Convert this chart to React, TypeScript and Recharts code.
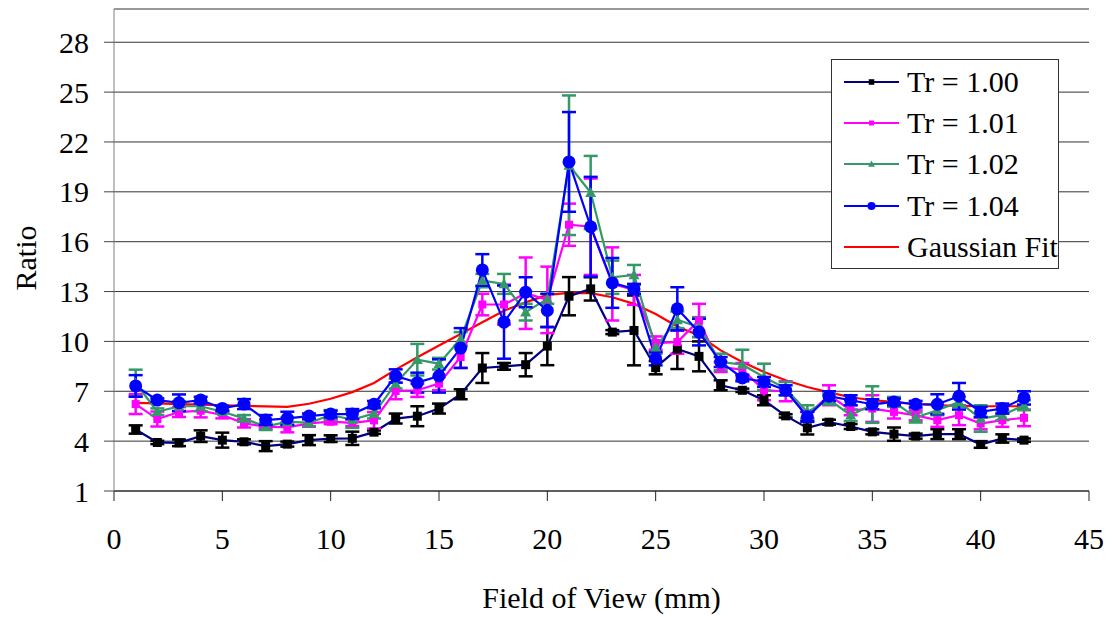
import React from "react";
import {
  CartesianGrid,
  ErrorBar,
  Label,
  Legend,
  Line,
  LineChart,
  XAxis,
  YAxis,
} from "recharts";

// field of view positions (mm)
const fieldOfView = [
  1, 2, 3, 4, 5, 6, 7, 8, 9, 10, 11, 12, 13, 14, 15, 16, 17, 18, 19, 20, 21,
  22, 23, 24, 25, 26, 27, 28, 29, 30, 31, 32, 33, 34, 35, 36, 37, 38, 39, 40,
  41, 42,
];

const tr100 = [
  4.7, 3.92, 3.9, 4.3, 4.06, 3.96, 3.7, 3.82, 4.06, 4.15, 4.17, 4.54, 5.36,
  5.5, 5.96, 6.82, 8.4, 8.5, 8.6, 9.72, 12.72, 13.16, 10.56, 10.66, 8.42, 9.54,
  9.1, 7.36, 7.06, 6.46, 5.52, 4.8, 5.14, 4.88, 4.56, 4.42, 4.3, 4.42, 4.42,
  3.8, 4.16, 4.06,
];
const tr100Err = [
  0.25, 0.1, 0.2, 0.35, 0.45, 0.15, 0.3, 0.15, 0.3, 0.2, 0.4, 0.1, 0.3, 0.6,
  0.3, 0.3, 0.9, 0.2, 0.7, 1.15, 1.15, 0.7, 0.12, 2.1, 0.4, 1.2, 0.9, 0.3, 0.1,
  0.3, 0.1, 0.4, 0.15, 0.15, 0.15, 0.4, 0.15, 0.3, 0.3, 0.2, 0.25, 0.1,
];

const tr101 = [
  6.23, 5.33, 5.75, 5.83, 5.57, 5.07, 4.87, 4.83, 5.07, 5.17, 5.1, 5.25, 7.02,
  7.06, 7.46, 9.06, 12.22, 12.22, 12.9, 12.5, 17.02, 16.9, 13.46, 13.1, 9.9,
  9.96, 11.26, 8.46, 8.3, 7.06, 7.0, 5.56, 6.76, 5.86, 5.96, 5.76, 5.55, 5.26,
  5.56, 5.06, 5.26, 5.4,
];
const tr101Err = [
  0.6, 0.45, 0.3, 0.4, 0.2, 0.25, 0.1, 0.3, 0.2, 0.15, 0.2, 0.5, 0.5, 0.4, 0.4,
  0.65, 0.65, 1.2, 2.15, 2.0, 1.27, 2.9, 2.2, 0.9, 0.4, 0.7, 1.0, 0.3, 0.4, 0.6,
  0.6, 0.2, 0.6, 0.3, 0.8, 0.4, 0.3, 0.4, 0.6, 0.35, 0.4, 0.5,
];

const tr102 = [
  7.5, 5.77, 6.1, 6.1, 5.77, 5.37, 4.87, 5.17, 5.1, 5.57, 5.3, 5.66, 7.46, 8.9,
  8.66, 10.16, 13.66, 13.46, 11.76, 12.56, 20.6, 18.96, 13.86, 14.0, 9.66, 11.3,
  10.86, 8.76, 8.6, 7.86, 7.16, 5.76, 6.5, 5.56, 6.2, 6.36, 5.42, 5.86, 6.36,
  5.36, 5.56, 6.16,
];
const tr102Err = [
  0.8, 0.2, 0.3, 0.3, 0.1, 0.2, 0.2, 0.25, 0.2, 0.3, 0.5, 0.3, 0.3, 0.95, 0.35,
  0.4, 0.4, 0.6, 0.5, 0.3, 4.2, 2.2, 1.0, 0.6, 0.4, 0.5, 0.6, 0.5, 0.9, 0.8,
  0.4, 0.4, 0.3, 0.35, 1.1, 0.3, 0.3, 0.3, 0.3, 0.8, 0.3, 0.3,
];

const tr104 = [
  7.32, 6.47, 6.31, 6.47, 5.97, 6.23, 5.27, 5.37, 5.51, 5.63, 5.63, 6.22, 7.92,
  7.52, 7.92, 9.6, 14.3, 11.16, 12.96, 11.86, 20.8, 16.9, 13.52, 13.16, 8.96,
  11.96, 10.56, 8.76, 7.8, 7.56, 7.06, 5.46, 6.7, 6.46, 6.22, 6.36, 6.22, 6.22,
  6.7, 5.76, 5.96, 6.6,
];
const tr104Err = [
  0.65, 0.1, 0.5, 0.2, 0.15, 0.3, 0.3, 0.4, 0.15, 0.2, 0.3, 0.2, 0.4, 0.6, 1.0,
  1.2, 0.95, 2.2, 0.9, 1.0, 3.0, 3.0, 1.5, 0.3, 0.4, 1.3, 0.8, 0.3, 0.2, 0.3,
  0.3, 0.3, 0.3, 0.3, 0.3, 0.2, 0.2, 0.6, 0.8, 0.3, 0.3, 0.4,
];

const gaussianFit = [
  6.3, 6.27, 6.23, 6.2, 6.16, 6.12, 6.09, 6.06, 6.25, 6.55, 6.95, 7.5, 8.3,
  9.05, 9.75, 10.45, 11.15, 11.85, 12.35, 12.8, 12.92, 12.9, 12.66, 12.26,
  11.65, 10.9, 10.36, 9.46, 8.76, 8.16, 7.66, 7.26, 6.93, 6.64, 6.46, 6.36,
  6.22, 6.16, 6.12, 6.1, 6.1, 6.1,
];

const xTicks = [0, 5, 10, 15, 20, 25, 30, 35, 40, 45];
const yTicks = [1, 4, 7, 10, 13, 16, 19, 22, 25, 28];

const FONT = '"Liberation Serif", "Times New Roman", Times, serif';

const data = fieldOfView.map((x, i) => ({
  x,
  tr100: tr100[i],
  tr100Err: tr100Err[i],
  tr101: tr101[i],
  tr101Err: tr101Err[i],
  tr102: tr102[i],
  tr102Err: tr102Err[i],
  tr104: tr104[i],
  tr104Err: tr104Err[i],
  fit: gaussianFit[i],
}));

type Shape = "square" | "triangle" | "circle" | "none";

const series: {
  key: string;
  errKey: string;
  name: string;
  line: string;
  marker: string;
  shape: Shape;
  size: number;
}[] = [
  { key: "tr100", errKey: "tr100Err", name: "Tr = 1.00", line: "#000080", marker: "#000000", shape: "square", size: 9 },
  { key: "tr101", errKey: "tr101Err", name: "Tr = 1.01", line: "#ff00ff", marker: "#ff00ff", shape: "square", size: 8 },
  { key: "tr102", errKey: "tr102Err", name: "Tr = 1.02", line: "#339966", marker: "#339966", shape: "triangle", size: 11 },
  { key: "tr104", errKey: "tr104Err", name: "Tr = 1.04", line: "#0000ff", marker: "#0000ff", shape: "circle", size: 13 },
];

const marker = (shape: Shape, size: number, fill: string, cx: number, cy: number, key?: React.Key) => {
  const h = size / 2;
  if (shape === "square")
    return <rect key={key} x={cx - h} y={cy - h} width={size} height={size} fill={fill} />;
  if (shape === "triangle")
    return (
      <polygon
        key={key}
        points={`${cx},${cy - h} ${cx + h},${cy + h * 0.8} ${cx - h},${cy + h * 0.8}`}
        fill={fill}
      />
    );
  if (shape === "circle") return <circle key={key} cx={cx} cy={cy} r={h} fill={fill} />;
  return <g key={key} />;
};

const makeDot = (shape: Shape, size: number, fill: string) => (props: any) => {
  const { cx, cy, index } = props;
  if (cx == null || cy == null) return <g key={index} />;
  return marker(shape, size, fill, cx, cy, index);
};

const legendRows = [
  ...series.map((s) => ({ name: s.name, line: s.line, marker: s.marker, shape: s.shape, size: s.size * 0.62 })),
  { name: "Gaussian Fit", line: "#ff0000", marker: "#ff0000", shape: "none" as Shape, size: 0 },
];

const renderLegend = () => (
  <div
    style={{
      width: 228,
      height: 210,
      boxSizing: "border-box",
      border: "1px solid #333",
      background: "#fff",
      paddingTop: 1,
    }}
  >
    {legendRows.map((r) => (
      <div key={r.name} style={{ height: 41.4, display: "flex", alignItems: "center" }}>
        <svg width={63} height={20} style={{ marginLeft: 12, flex: "none" }}>
          <line x1={0} x2={55} y1={10} y2={10} stroke={r.line} strokeWidth={2.2} />
          {marker(r.shape, r.size, r.marker, 27.5, 10)}
        </svg>
        <span style={{ fontFamily: FONT, fontSize: 30, lineHeight: 1, color: "#000", whiteSpace: "nowrap" }}>
          {r.name}
        </span>
      </div>
    ))}
  </div>
);

const App = () => {
  return (
    <div style={{ position: "absolute", left: 0, top: 0, width: 1106, height: 617, background: "#fff" }}>
      <LineChart
        width={1106}
        height={617}
        data={data}
        margin={{ top: 9, right: 17, bottom: 0, left: 0 }}
      >
        <CartesianGrid vertical={false} stroke="#333" strokeWidth={1} />
        <XAxis
          dataKey="x"
          type="number"
          domain={[0, 45]}
          ticks={xTicks}
          interval={0}
          height={126}
          tickSize={10}
          tickMargin={27}
          axisLine={{ stroke: "#222" }}
          tickLine={{ stroke: "#222" }}
          tick={{ fill: "#000", fontSize: 30, fontFamily: FONT }}
        >
          <Label
            value="Field of View (mm)"
            position="center"
            dy={43}
            fill="#000"
            fontSize={30}
            fontFamily={FONT}
          />
        </XAxis>
        <YAxis
          type="number"
          domain={[1, 30]}
          ticks={yTicks}
          interval={0}
          width={114}
          tickSize={10}
          tickMargin={15}
          axisLine={{ stroke: "#808080" }}
          tickLine={{ stroke: "#444" }}
          tick={{ fill: "#000", fontSize: 30, fontFamily: FONT }}
        >
          <Label
            value="Ratio"
            position="center"
            angle={-90}
            dx={-32}
            dy={8}
            fill="#000"
            fontSize={30}
            fontFamily={FONT}
          />
        </YAxis>
        <Line
          type="linear"
          dataKey="fit"
          name="Gaussian Fit"
          stroke="#ff0000"
          strokeWidth={2.2}
          dot={false}
          activeDot={false}
          isAnimationActive={false}
        />
        {series.map((s) => (
          <Line
            key={s.key}
            type="linear"
            dataKey={s.key}
            name={s.name}
            stroke={s.line}
            strokeWidth={2.2}
            dot={makeDot(s.shape, s.size, s.marker)}
            activeDot={false}
            isAnimationActive={false}
          >
            <ErrorBar
              dataKey={s.errKey}
              direction="y"
              width={7}
              stroke={s.shape === "square" && s.key === "tr100" ? "#000" : s.marker}
              strokeWidth={2.5}
              isAnimationActive={false}
            />
          </Line>
        ))}
        <Legend
          layout="vertical"
          align="center"
          verticalAlign="middle"
          content={renderLegend}
          wrapperStyle={{ left: 831, top: 59, width: 228, height: 210 }}
        />
      </LineChart>
    </div>
  );
};

export default App;
